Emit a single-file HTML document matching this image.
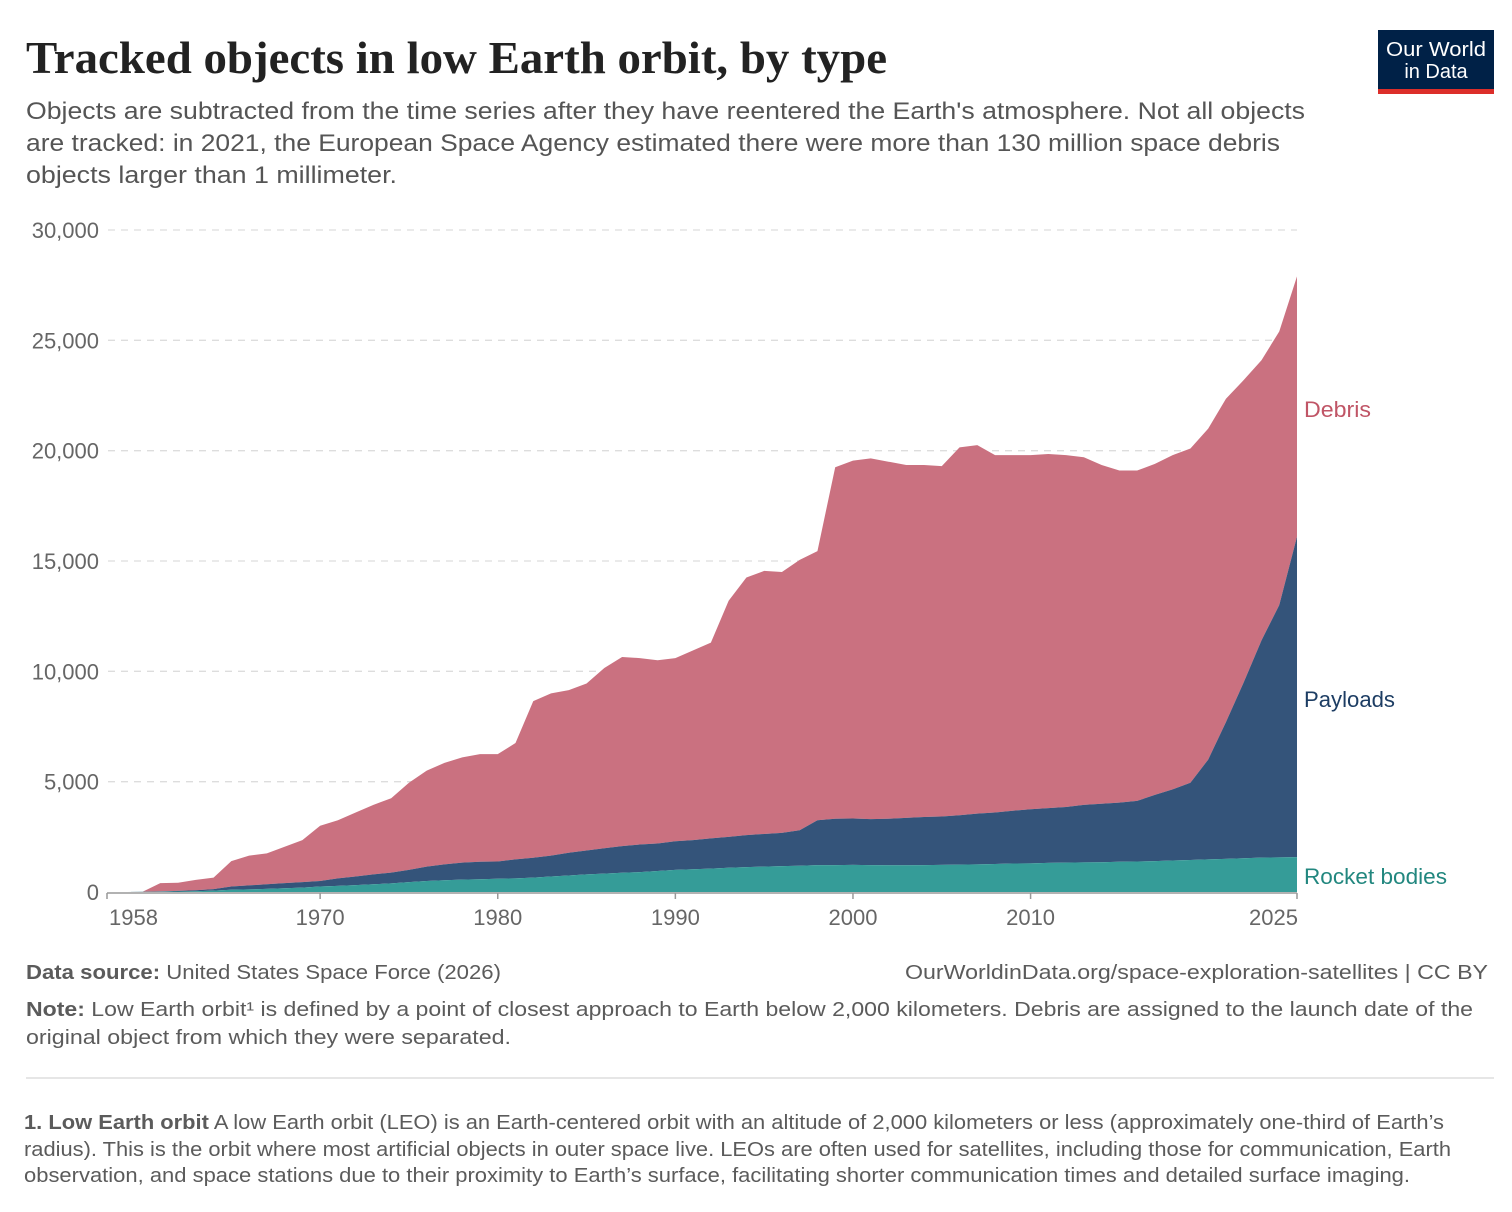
<!DOCTYPE html>
<html><head><meta charset="utf-8">
<style>
body{margin:0;background:#fff;}
svg{display:block;font-family:"Liberation Sans",sans-serif;}
</style></head>
<body>
<svg id="chart" width="1512" height="1212" viewBox="0 0 1512 1212" xmlns="http://www.w3.org/2000/svg">
<rect x="0" y="0" width="1512" height="1212" fill="#fff"/>
<text x="26" y="73" font-family="Liberation Serif, serif" font-weight="bold" font-size="45" fill="#222" textLength="861" lengthAdjust="spacingAndGlyphs">Tracked objects in low Earth orbit, by type</text>
<g font-size="24" fill="#555">
<text x="26" y="119" textLength="1279" lengthAdjust="spacingAndGlyphs">Objects are subtracted from the time series after they have reentered the Earth's atmosphere. Not all objects</text>
<text x="26" y="151" textLength="1254" lengthAdjust="spacingAndGlyphs">are tracked: in 2021, the European Space Agency estimated there were more than 130 million space debris</text>
<text x="26" y="183" textLength="371" lengthAdjust="spacingAndGlyphs">objects larger than 1 millimeter.</text>
</g>
<g>
<rect x="1378" y="30" width="116" height="60" fill="#002147"/>
<rect x="1378" y="89" width="116" height="5" fill="#dc2e2a"/>
<text x="1436" y="56" text-anchor="middle" font-size="20" fill="#fff" textLength="100" lengthAdjust="spacingAndGlyphs">Our World</text>
<text x="1436" y="78" text-anchor="middle" font-size="20" fill="#fff">in Data</text>
</g>
<g id="grid"></g>
<g id="areas"></g>
<g id="axes"></g>
<g font-size="22">
<text x="1304" y="417" fill="#c05566" textLength="67" lengthAdjust="spacingAndGlyphs">Debris</text>
<text x="1304" y="707" fill="#1d3d63" textLength="91" lengthAdjust="spacingAndGlyphs">Payloads</text>
<text x="1304" y="884" fill="#22877f" textLength="143" lengthAdjust="spacingAndGlyphs">Rocket bodies</text>
</g>
<g font-size="20" fill="#5b5b5b">
<text x="26" y="979" textLength="475" lengthAdjust="spacingAndGlyphs"><tspan font-weight="bold">Data source:</tspan> United States Space Force (2026)</text>
<text x="905" y="979" textLength="583" lengthAdjust="spacingAndGlyphs">OurWorldinData.org/space-exploration-satellites | CC BY</text>
<text x="26" y="1016" textLength="1447" lengthAdjust="spacingAndGlyphs"><tspan font-weight="bold">Note:</tspan> Low Earth orbit¹ is defined by a point of closest approach to Earth below 2,000 kilometers. Debris are assigned to the launch date of the</text>
<text x="26" y="1044" textLength="485" lengthAdjust="spacingAndGlyphs">original object from which they were separated.</text>
<line x1="26" y1="1078" x2="1494" y2="1078" stroke="#ddd" stroke-width="1.5"/>
<text x="24" y="1129" textLength="1420" lengthAdjust="spacingAndGlyphs"><tspan font-weight="bold">1. Low Earth orbit</tspan> A low Earth orbit (LEO) is an Earth-centered orbit with an altitude of 2,000 kilometers or less (approximately one-third of Earth’s</text>
<text x="24" y="1156" textLength="1427" lengthAdjust="spacingAndGlyphs">radius). This is the orbit where most artificial objects in outer space live. LEOs are often used for satellites, including those for communication, Earth</text>
<text x="24" y="1182" textLength="1386" lengthAdjust="spacingAndGlyphs">observation, and space stations due to their proximity to Earth’s surface, facilitating shorter communication times and detailed surface imaging.</text>
</g>
</svg>
<script>
const years = [];
for (let y = 1958; y <= 2025; y++) years.push(y);
const rocketBodies = [0,0,5,10,20,35,60,100,120,140,170,200,250,280,310,350,390,450,500,530,560,580,600,620,650,700,750,800,830,870,900,950,1000,1030,1060,1100,1130,1150,1170,1190,1220,1220,1230,1220,1210,1210,1220,1230,1240,1250,1270,1290,1300,1320,1330,1340,1350,1370,1380,1400,1430,1450,1480,1500,1530,1560,1570,1580];
const stackPayloads = [0,0,10,30,50,80,130,250,300,350,400,450,500,620,700,800,880,1000,1150,1250,1330,1370,1380,1480,1550,1650,1780,1880,1980,2080,2150,2200,2300,2350,2430,2500,2580,2630,2680,2800,3250,3320,3330,3300,3320,3360,3400,3420,3480,3550,3600,3680,3750,3800,3850,3950,4000,4050,4130,4400,4650,4950,6000,7700,9500,11400,13000,16100];
const stackTotal = [0,0,10,400,420,550,650,1400,1650,1750,2050,2350,3000,3250,3600,3950,4250,4950,5500,5850,6100,6250,6250,6750,8650,9000,9150,9450,10150,10650,10600,10500,10600,10950,11300,13200,14250,14550,14500,15050,15450,19250,19550,19650,19500,19350,19350,19300,20150,20250,19800,19800,19800,19850,19800,19700,19350,19100,19100,19400,19800,20100,21000,22350,23200,24100,25400,27900];
const yTicks = [0,5000,10000,15000,20000,25000,30000];
const xTicks = [1958,1970,1980,1990,2000,2010,2025];

const X0=107, X1=1297, Y0=892, Y1=230;
const sx = y => X0 + (y-1958)/(2025-1958)*(X1-X0);
const sy = v => Y0 - v/30000*(Y0-Y1);
const NS="http://www.w3.org/2000/svg";
const mk=(t,a,p)=>{const e=document.createElementNS(NS,t);for(const k in a)e.setAttribute(k,a[k]);p.appendChild(e);return e;};

const grid=document.getElementById('grid');
yTicks.forEach(v=>{
  if(v>0){const l=mk('line',{x1:108,x2:1297,y1:sy(v),y2:sy(v),stroke:'#ddd','stroke-dasharray':'7,6','stroke-width':1.3},grid);
  
  }
  const t=mk('text',{x:99,y:sy(v)+8,'text-anchor':'end','font-size':22,fill:'#666'},grid);
  t.textContent=v.toLocaleString('en-US');
  
  
});

const areas=document.getElementById('areas');
function band(lo,hi,color,name){
  let d='M'+years.map((y,i)=>sx(y)+','+sy(hi[i])).join(' L');
  for(let i=years.length-1;i>=0;i--) d+=' L'+sx(years[i])+','+sy(lo?lo[i]:0);
  const p=mk('path',{d:d+'Z',fill:color},areas);
  
  
}
band(stackPayloads,stackTotal,'#ca7180','area-debris');
band(rocketBodies,stackPayloads,'#34547a','area-payloads');
band(null,rocketBodies,'#359c98','area-rocket-bodies');

const axes=document.getElementById('axes');
const ax=mk('line',{x1:X0,x2:X1,y1:Y0+1,y2:Y0+1,stroke:'#999','stroke-width':1.5},axes);


xTicks.forEach((y,i)=>{
  mk('line',{x1:sx(y),x2:sx(y),y1:Y0+1,y2:Y0+7,stroke:'#999','stroke-width':1.5},axes);
  let anchor='middle', x=sx(y);
  if(i===0){anchor='start';x=sx(y)+2;}
  if(i===xTicks.length-1){anchor='end';x=sx(y)+1;}
  const t=mk('text',{x:x,y:925,'text-anchor':anchor,'font-size':22,fill:'#666'},axes);
  t.textContent=y;
  
  
});
</script>
</body></html>
